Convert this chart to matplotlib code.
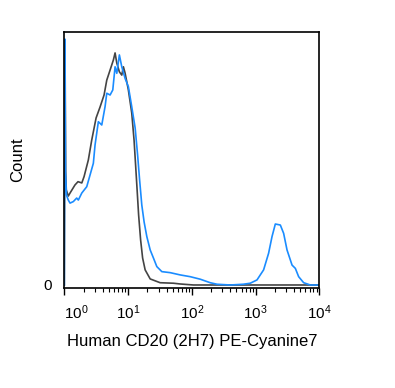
import numpy as np
import matplotlib
matplotlib.use("Agg")
import matplotlib.pyplot as plt

plt.rcParams['font.family'] = ['Liberation Sans', 'DejaVu Sans']
plt.rcParams['mathtext.fontset'] = 'custom'
plt.rcParams['mathtext.rm'] = 'Liberation Sans'

# control (dark grey) histogram: intensity, count
ctrl_x = [1.0, 1.025, 1.05, 1.075, 1.155, 1.23, 1.47, 1.64, 1.88, 2.04, 2.38, 2.69,
          3.15, 3.63, 4.20, 4.63, 5.22, 5.88, 6.25, 6.65, 7.30, 7.96, 8.44, 8.97,
          10.1, 11.4, 12.4, 13.11, 13.85, 14.62, 15.71, 16.89, 18.5, 22.2, 31.8,
          51.4, 65.5, 106, 10000]
ctrl_y = [0.0, 97.2, 45.0, 37.7, 35.3, 36.5, 39.7, 41.0, 40.5, 43.0, 49.6, 57.5,
          66.3, 70.6, 75.4, 81.3, 85.3, 89.3, 92.1, 88.1, 84.6, 83.3, 86.6, 84.1,
          77.4, 68.3, 57.5, 47.6, 37.7, 27.8, 17.9, 10.7, 6.0, 2.4, 0.9,
          0.7, 0.4, 0.0, 0.0]

# CD20 stained (blue) histogram
cd20_x = [1.0, 1.02, 1.045, 1.08, 1.155, 1.23, 1.384, 1.565, 1.659, 1.88, 2.247,
          2.853, 3.034, 3.418, 3.865, 4.355, 4.63, 5.22, 5.752, 6.25, 6.65, 7.30,
          7.96, 8.97, 10.1, 11.4, 12.9, 14.09, 15.15, 16.4, 17.83, 19.66, 22.2,
          24.96, 28.2, 33.8, 45.6, 65.5, 94.0, 135, 194, 247, 399, 639, 822, 1048,
          1331, 1594, 1803, 2032, 2434, 2742, 3100, 3715, 4184, 4715, 5649, 7194,
          10000]
cd20_y = [0.0, 97.6, 45.0, 35.7, 33.7, 32.5, 33.1, 34.5, 33.7, 36.5, 39.0,
          48.3, 55.6, 64.8, 63.5, 70.8, 76.1, 75.4, 77.4, 86.6, 84.0, 91.3,
          86.6, 82.0, 78.7, 70.8, 62.3, 51.6, 41.7, 31.7, 25.0, 19.2, 13.9,
          10.7, 7.3, 5.3, 4.9, 4.0, 3.3, 2.3, 0.9, 0.3, 0.0, 0.3, 0.7, 2.0,
          6.0, 12.6, 19.2, 24.2, 23.8, 20.5, 13.9, 7.9, 6.6, 3.3, 0.9, 0.0,
          0.0]

x_ticks = [1, 10, 100, 1000, 10000]
x_ticklabels = [r'$\mathregular{10^{0}}$', r'$\mathregular{10^{1}}$',
                r'$\mathregular{10^{2}}$', r'$\mathregular{10^{3}}$',
                r'$\mathregular{10^{4}}$']

fig = plt.figure(figsize=(3.95, 3.88), dpi=100)
ax = fig.add_axes([0.1628, 0.2577, 0.646, 0.6598])

ax.plot(ctrl_x, ctrl_y, color='#444444', lw=1.2)
ax.plot(cd20_x, cd20_y, color='#1a8cff', lw=1.2)

ax.set_xscale('log')
ax.set_xlim(1, 10000)
ax.set_ylim(-1.2, 100.4)

ax.set_xticks(x_ticks)
ax.set_xticklabels(x_ticklabels, fontsize=11)
ax.get_xticklabels()[0].set_horizontalalignment('left')
ax.xaxis.set_minor_locator(matplotlib.ticker.LogLocator(base=10, subs=np.arange(2, 10)))
ax.xaxis.set_minor_formatter(matplotlib.ticker.NullFormatter())
ax.tick_params(axis='x', which='major', direction='out', length=5, width=1, pad=6)
ax.tick_params(axis='x', which='minor', direction='out', length=3, width=0.8)

ax.set_yticks([0])
ax.set_yticklabels(['0'], fontsize=11)
ax.tick_params(axis='y', length=0, pad=9)

for s in ax.spines.values():
    s.set_linewidth(1.2)
    s.set_color('black')

ax.set_xlabel('Human CD20 (2H7) PE-Cyanine7', fontsize=12, labelpad=9)
ax.set_ylabel('Count', fontsize=12, labelpad=13)

fig.savefig('out.png', dpi=100)
